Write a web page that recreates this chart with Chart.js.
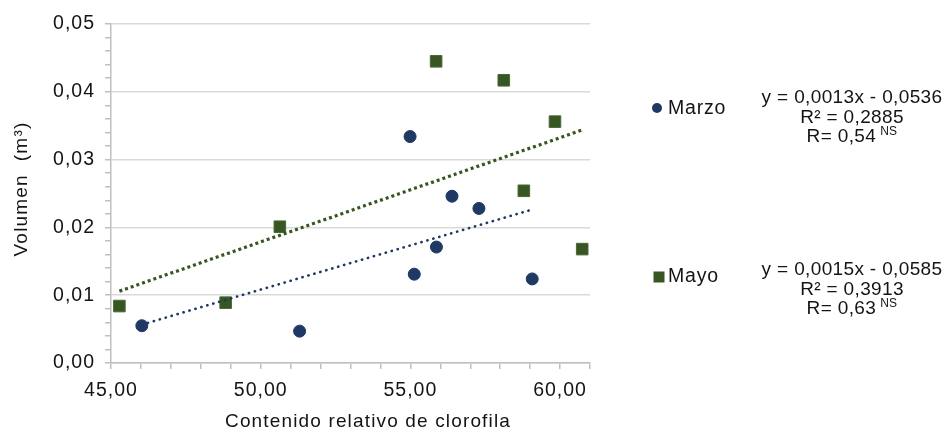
<!DOCTYPE html>
<html lang="es">
<head>
<meta charset="utf-8">
<title>Volumen vs contenido relativo de clorofila</title>
<script src="https://cdn.jsdelivr.net/npm/chart.js"></script>
<style>
  html, body { margin: 0; padding: 0; background: #ffffff; }
  #wrap { width: 946px; height: 430px; }
</style>
</head>
<body>
<div id="wrap"><canvas id="chart" width="946" height="430"></canvas></div>
<script>
// Contenido relativo de clorofila (x) y volumen en m³ (y) por muestreo
const marzoX = [46.03, 51.30, 54.99, 55.13, 55.87, 56.39, 57.29, 59.07];
const marzoY = [0.0055, 0.0047, 0.0334, 0.0131, 0.0171, 0.0246, 0.0228, 0.0124];
const mayoX  = [45.28, 48.83, 50.64, 55.86, 58.12, 58.79, 59.83, 60.74];
const mayoY  = [0.0084, 0.0089, 0.0201, 0.0445, 0.0417, 0.0254, 0.0356, 0.0168];

const seriesNames = ['Marzo', 'Mayo'];
const marzoEq = ['y = 0,0013x - 0,0536', 'R\u00B2 = 0,2885', 'R= 0,54'];
const mayoEq  = ['y = 0,0015x - 0,0585', 'R\u00B2 = 0,3913', 'R= 0,63'];
const sigMark = 'NS';

const xTitle = 'Contenido relativo de clorofila';
const yTitle = 'Volumen  (m\u00B3)';

const BLUE = '#1f3864';
const GREEN = '#375623';
const TEXT = '#141414';
const FONT = "'Liberation Sans', Arial, sans-serif";
const TEXT_SPACING = '1px';

const toPoints = (xs, ys) => xs.map((x, i) => ({ x, y: ys[i] }));

// least-squares line over the range of the observed x values
function fitLine(xs, ys) {
  const n = xs.length;
  const mx = xs.reduce((a, b) => a + b, 0) / n;
  const my = ys.reduce((a, b) => a + b, 0) / n;
  let sxy = 0, sxx = 0;
  for (let i = 0; i < n; i++) {
    sxy += (xs[i] - mx) * (ys[i] - my);
    sxx += (xs[i] - mx) * (xs[i] - mx);
  }
  const slope = sxy / sxx;
  return { slope, intercept: my - slope * mx };
}
function trendPoints(xs, ys) {
  const f = fitLine(xs, ys);
  const x0 = Math.min(...xs), x1 = Math.max(...xs);
  return [{ x: x0, y: f.intercept + f.slope * x0 }, { x: x1, y: f.intercept + f.slope * x1 }];
}

const comma = (v, d) => v.toFixed(d).replace('.', ',');
const isMajorY = v => Math.abs(v * 100 - Math.round(v * 100)) < 1e-6;

// slightly open letter spacing for the chart text
const spacing = {
  id: 'spacing',
  beforeUpdate(chart) { chart.ctx.letterSpacing = TEXT_SPACING; },
  beforeLayout(chart) { chart.ctx.letterSpacing = TEXT_SPACING; },
  beforeDraw(chart) { chart.ctx.letterSpacing = TEXT_SPACING; }
};

// axis titles, legend entries and regression statistics
const annotations = {
  id: 'annotations',
  afterDraw(chart) {
    const ctx = chart.ctx;
    ctx.save();
    ctx.fillStyle = TEXT;
    ctx.textBaseline = 'middle';

    // axis titles
    ctx.font = '19px ' + FONT;
    ctx.letterSpacing = '1.15px';
    ctx.textAlign = 'center';
    ctx.fillText(xTitle, 368, 422);
    ctx.save();
    ctx.translate(22, 189);
    ctx.rotate(-Math.PI / 2);
    ctx.letterSpacing = '1.2px';
    ctx.fillText(yTitle, 0, 0);
    ctx.restore();

    // legend markers
    ctx.fillStyle = BLUE;
    ctx.beginPath();
    ctx.arc(657, 108, 5, 0, Math.PI * 2);
    ctx.fill();
    ctx.fillStyle = GREEN;
    ctx.fillRect(653.5, 271.5, 11, 11);

    ctx.fillStyle = TEXT;
    ctx.textAlign = 'left';
    ctx.letterSpacing = '0.8px';
    ctx.font = '19.5px ' + FONT;
    ctx.fillText(seriesNames[0], 668, 109);
    ctx.fillText(seriesNames[1], 668, 277);

    const block = (lines, cx, y0) => {
      ctx.letterSpacing = '0.35px';
      ctx.font = '19px ' + FONT;
      ctx.textAlign = 'center';
      ctx.fillText(lines[0], cx, y0);
      ctx.fillText(lines[1], cx, y0 + 19.5);
      const w = ctx.measureText(lines[2]).width;
      ctx.font = '12px ' + FONT;
      ctx.letterSpacing = '0.3px';
      const ws = ctx.measureText(sigMark).width;
      const gap = 4;
      const left = cx - (w + gap + ws) / 2;
      ctx.textAlign = 'left';
      ctx.font = '19px ' + FONT;
      ctx.letterSpacing = '0.35px';
      ctx.fillText(lines[2], left, y0 + 39);
      ctx.font = '12px ' + FONT;
      ctx.letterSpacing = '0.3px';
      ctx.fillText(sigMark, left + w + gap, y0 + 34);
    };
    block(marzoEq, 852, 98);
    block(mayoEq, 852, 270);
    ctx.restore();
  }
};

new Chart(document.getElementById('chart'), {
  type: 'scatter',
  data: {
    datasets: [
      {
        label: 'Lineal (Marzo)',
        data: trendPoints(marzoX, marzoY),
        showLine: true,
        borderColor: BLUE,
        borderWidth: 2.6,
        borderDash: [0.3, 5.9],
        borderCapStyle: 'round',
        pointRadius: 0,
        order: 0
      },
      {
        label: 'Lineal (Mayo)',
        data: trendPoints(mayoX, mayoY),
        showLine: true,
        borderColor: GREEN,
        borderWidth: 3.2,
        borderDash: [3, 3],
        borderCapStyle: 'butt',
        pointRadius: 0,
        order: 0
      },
      {
        label: seriesNames[0],
        data: toPoints(marzoX, marzoY),
        pointStyle: 'circle',
        pointRadius: 6,
        borderWidth: 1,
        backgroundColor: BLUE,
        borderColor: BLUE,
        order: 1
      },
      {
        label: seriesNames[1],
        data: toPoints(mayoX, mayoY),
        pointStyle: 'rect',
        pointRadius: 8.2,
        borderWidth: 1,
        backgroundColor: GREEN,
        borderColor: '#4a6a36',
        order: 1
      }
    ]
  },
  options: {
    responsive: false,
    animation: false,
    devicePixelRatio: 1,
    layout: { padding: { left: 0, top: 24, right: 356, bottom: 0 } },
    plugins: { legend: { display: false }, tooltip: { enabled: false } },
    scales: {
      x: {
        type: 'linear',
        min: 45,
        max: 61,
        ticks: {
          stepSize: 1,
          autoSkip: false,
          maxRotation: 0,
          padding: 10,
          color: TEXT,
          font: { family: FONT, size: 19.5 },
          callback: v => (Math.abs(v % 5) < 1e-9 ? comma(v, 2) : '')
        },
        grid: { drawOnChartArea: false, tickLength: 6, tickColor: '#bfbfbf', lineWidth: 1.5 },
        border: { color: '#bfbfbf', width: 1.5 },
        title: { display: false },
        afterFit: s => { s.height = 67; }
      },
      y: {
        type: 'linear',
        min: 0,
        max: 0.05,
        ticks: {
          stepSize: 0.002,
          autoSkip: false,
          padding: 10,
          color: TEXT,
          font: { family: FONT, size: 19.5 },
          callback: v => (isMajorY(v) ? comma(v, 2) : '')
        },
        grid: {
          color: c => (c.tick && isMajorY(c.tick.value) ? '#d9d9d9' : 'rgba(0,0,0,0)'),
          lineWidth: 1.5,
          tickLength: 6,
          tickColor: '#bfbfbf'
        },
        border: { color: '#bfbfbf', width: 1.5 },
        title: { display: false },
        afterFit: s => { s.width = 111; }
      }
    }
  },
  plugins: [spacing, annotations]
});
</script>
</body>
</html>
